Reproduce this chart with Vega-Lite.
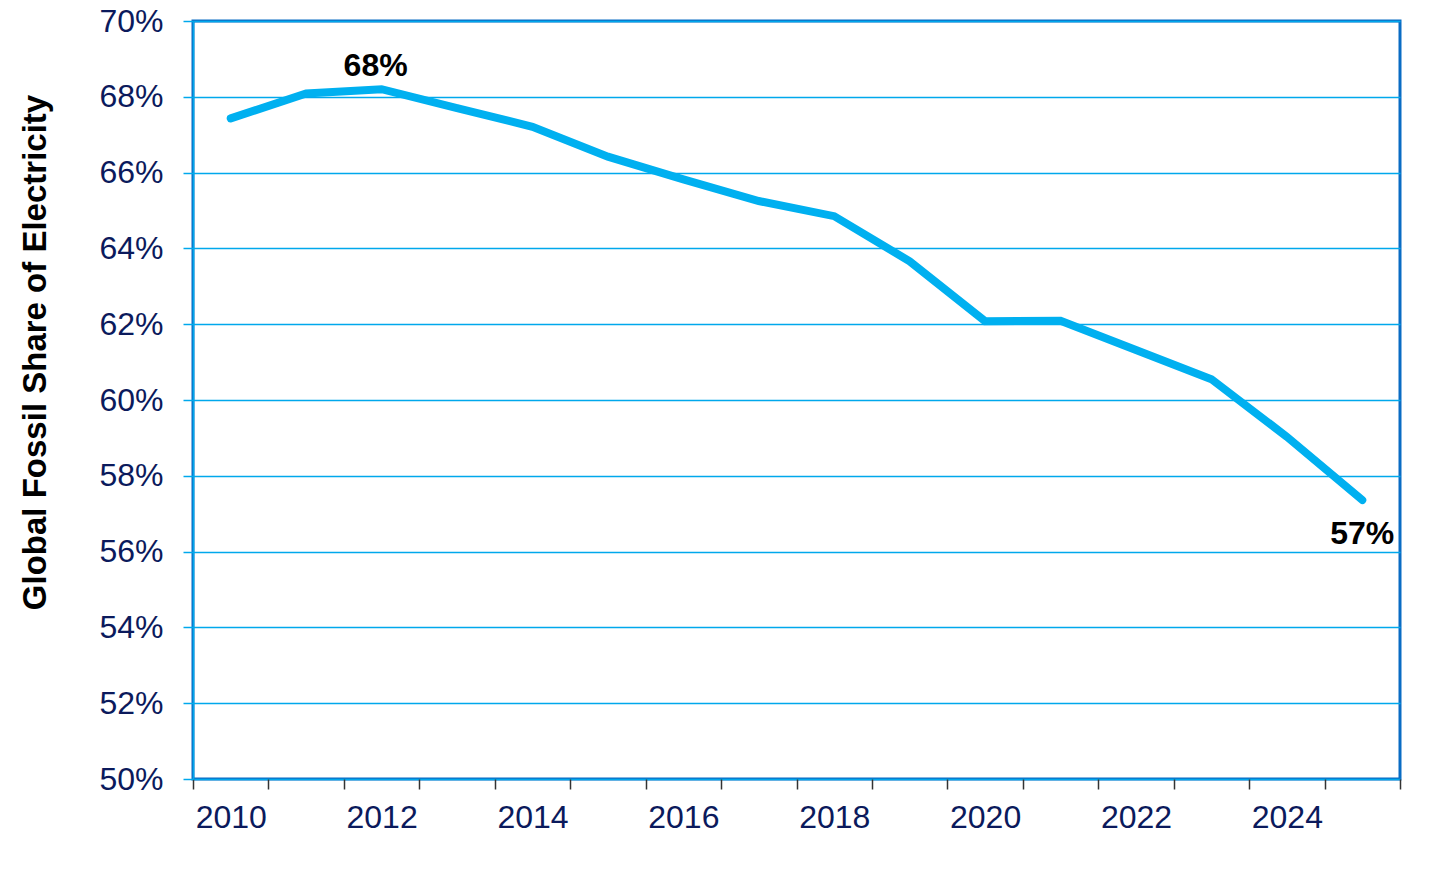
{
  "$schema": "https://vega.github.io/schema/vega-lite/v6.json",
  "autosize": "none",
  "width": 1207,
  "height": 758,
  "padding": {"left": 193, "top": 21, "right": 56, "bottom": 95},
  "background": "white",
  "config": {
    "font": "Liberation Sans",
    "view": {"stroke": "#0a6cc4", "strokeWidth": 3}
  },
  "data": {
    "values": [
      {"year": 2010, "share": 67.43},
      {"year": 2011, "share": 68.09},
      {"year": 2012, "share": 68.2, "label": "68%"},
      {"year": 2013, "share": 67.7},
      {"year": 2014, "share": 67.21},
      {"year": 2015, "share": 66.42},
      {"year": 2016, "share": 65.82},
      {"year": 2017, "share": 65.25},
      {"year": 2018, "share": 64.85},
      {"year": 2019, "share": 63.66},
      {"year": 2020, "share": 62.08},
      {"year": 2021, "share": 62.09},
      {"year": 2022, "share": 61.32},
      {"year": 2023, "share": 60.55},
      {"year": 2024, "share": 59.03},
      {"year": 2025, "share": 57.36, "label": "57%"}
    ]
  },
  "encoding": {
    "x": {
      "field": "year",
      "type": "ordinal",
      "scale": {"type": "band", "paddingInner": 0, "paddingOuter": 0},
      "axis": {
        "title": null,
        "domain": false,
        "tickBand": "extent",
        "tickColor": "#333333",
        "tickSize": 10,
        "tickWidth": 1.5,
        "labelAngle": 0,
        "labelFontSize": 32,
        "labelColor": "#0b1a5c",
        "labelPadding": 13,
        "labelOverlap": false,
        "labelExpr": "datum.value % 2 == 0 ? datum.value : ''"
      }
    },
    "y": {
      "field": "share",
      "type": "quantitative",
      "scale": {"domain": [50, 70], "nice": false, "zero": false},
      "axis": {
        "title": "Global Fossil Share of Electricity",
        "titleFontSize": 33,
        "titleFontWeight": "bold",
        "titleColor": "black",
        "titleAngle": 270,
        "titleAlign": "center",
        "titleBaseline": "middle",
        "titleX": -158,
        "titleY": 331,
        "values": [50, 52, 54, 56, 58, 60, 62, 64, 66, 68, 70],
        "labelExpr": "datum.value + '%'",
        "labelFontSize": 32,
        "labelColor": "#0b1a5c",
        "labelPadding": 20,
        "tickColor": "#00a8ec",
        "tickSize": 10,
        "tickWidth": 1.5,
        "domainColor": "#00a8ec",
        "domainWidth": 1.5,
        "gridColor": "#00a8ec",
        "gridWidth": 1.5
      }
    }
  },
  "layer": [
    {
      "mark": {"type": "line", "color": "#00b0f0", "strokeWidth": 8, "strokeCap": "round"}
    },
    {
      "transform": [{"filter": "datum.year == 2012"}],
      "mark": {"type": "text", "fontSize": 32, "fontWeight": "bold", "color": "black", "baseline": "middle", "dx": -6, "dy": -23},
      "encoding": {"text": {"field": "label"}}
    },
    {
      "transform": [{"filter": "datum.year == 2025"}],
      "mark": {"type": "text", "fontSize": 32, "fontWeight": "bold", "color": "black", "baseline": "middle", "dy": 34},
      "encoding": {"text": {"field": "label"}}
    }
  ]
}
